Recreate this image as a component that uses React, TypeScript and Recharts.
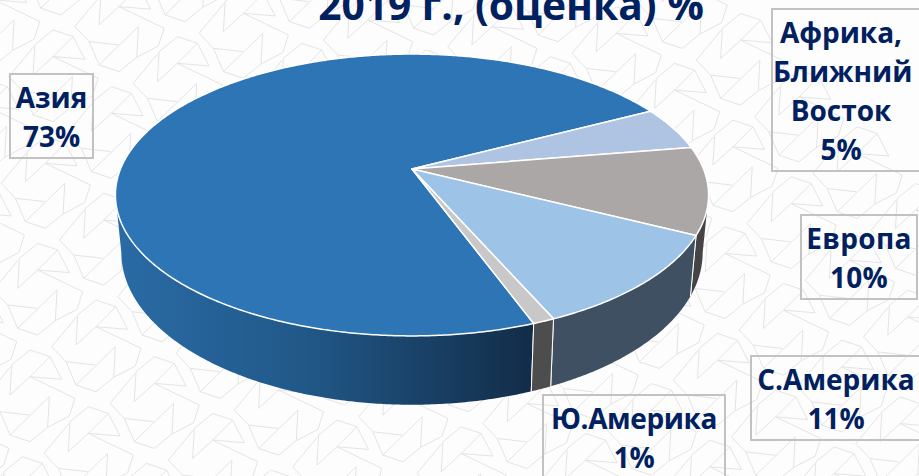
import React from 'react'
import { Cell, Pie, PieChart } from 'recharts'

const regions = ['Азия', 'Африка, Ближний Восток', 'Европа', 'С.Америка', 'Ю.Америка']
const shares = [73, 5, 10, 11, 1]
const titleText = '2019 г., (оценка) %'

const topColors = ['#2e75b6', '#afc3e2', '#aba7a6', '#9dc3e6', '#c8c8c8']
const wallColors = ['url(#asiaWall)', '#3a3a3a', '#454343', '#3f5062', '#4d4d4d']

const data = regions.map((name, i) => ({ name, value: shares[i] }))

// perspective of the tilted disc, fitted to the reference
const TILT = 0.467
const PERSP = 0.1844
const LOWER_SCALE_X = 0.98
const LOWER_TILT = 0.504
const LOWER_DROP = 55.6

// textWidth centres the words inside boxes that run past the right edge
const labelBoxes = [
  { lines: ['Азия', '73%'], left: 9, top: 73, width: 85, height: 86, textWidth: 81, spacing: 0 },
  { lines: ['Африка,', 'Ближний', 'Восток', '5%'], left: 771, top: 8, width: 160, height: 164, textWidth: 136, spacing: 0 },
  { lines: ['Европа', '10%'], left: 800, top: 214, width: 118, height: 86, textWidth: 114, spacing: 0.3 },
  { lines: ['С.Америка', '11%'], left: 750, top: 355, width: 180, height: 86, textWidth: 168, spacing: 0 },
  { lines: ['Ю.Америка', '1%'], left: 542, top: 394, width: 184, height: 100, textWidth: 180, spacing: -0.4 },
]

// wallpaper strokes of one lattice cell, [x1, y1, x2, y2] at 3x of the page
const wallpaperStrokes = [
  [148, 170, 143, 262],
  [148, 170, 30, 285],
  [30, 285, 90, 305],
  [90, 305, 143, 262],
  [0, 215, 88, 225],
  [90, 110, 185, 118],
  [90, 110, 225, 175],
  [225, 175, 208, 228],
  [208, 228, 143, 262],
  [90, 110, 30, 165],
  [30, 165, 35, 75],
  [35, 75, 90, 30],
  [90, 30, 150, 50],
  [150, 50, 185, 118],
  [90, 110, 150, 50],
  [-43, 170, 0, 215],
  [0, 215, 30, 285],
  [-43, 170, 32, 80],
]
const latticeSteps = [-9, -8, -7, -6, -5, -4, -3, -2, -1, 0, 1, 2, 3, 4, 5, 6, 7, 8, 9]

type Pt = [number, number]

const topPoint = (cx: number, cy: number, r: number, deg: number): Pt => {
  const rad = (deg * Math.PI) / 180
  const u = Math.cos(rad)
  const v = -Math.sin(rad)
  const d = 1 - PERSP * v
  return [cx + (r * u) / d, cy + (r * TILT * v) / d]
}

const lowerPoint = (cx: number, cy: number, r: number, deg: number): Pt => {
  const rad = (deg * Math.PI) / 180
  const u = Math.cos(rad)
  const v = -Math.sin(rad)
  const d = 1 - PERSP * v
  return [cx + (r * LOWER_SCALE_X * u) / d, cy + LOWER_DROP + (r * LOWER_TILT * v) / d]
}

const arc = (fn: (deg: number) => Pt, from: number, to: number): Pt[] => {
  const n = Math.max(2, Math.ceil(Math.abs(to - from) * 2))
  const pts: Pt[] = []
  for (let i = 0; i <= n; i++) pts.push(fn(from + ((to - from) * i) / n))
  return pts
}

const toPath = (pts: Pt[]) =>
  'M' + pts.map((p) => `${p[0].toFixed(2)},${p[1].toFixed(2)}`).join('L') + 'Z'

const TopSlice = (props: any) => {
  const { cx, cy, outerRadius, startAngle, endAngle, fill } = props
  const rim = arc((d) => topPoint(cx, cy, outerRadius, d), startAngle, endAngle)
  return (
    <path
      d={toPath([[cx, cy], ...rim])}
      fill={fill}
      stroke="#ffffff"
      strokeWidth={1.5}
      strokeLinejoin="round"
    />
  )
}

const WallSlice = (props: any) => {
  const { cx, cy, outerRadius, startAngle, endAngle, fill } = props
  // only the part of the rim that faces the viewer
  const sil = (Math.asin(PERSP) * 180) / Math.PI
  const parts: React.ReactNode[] = []
  ;[0, -360].forEach((shift) => {
    const from = Math.min(startAngle, -sil + shift)
    const to = Math.max(endAngle, -180 + sil + shift)
    if (from <= to) return
    const upper = arc((d) => topPoint(cx, cy, outerRadius, d), from, to)
    const lower = arc((d) => lowerPoint(cx, cy, outerRadius, d), to, from)
    parts.push(<path key={shift} d={toPath([...upper, ...lower])} fill={fill} stroke="none" />)
    const edges = [startAngle === from ? from : null, endAngle === to ? to : null]
    edges.forEach((deg, i) => {
      if (deg === null) return
      const a = topPoint(cx, cy, outerRadius, deg)
      const b = lowerPoint(cx, cy, outerRadius, deg)
      parts.push(
        <line
          key={`${shift}-${i}`}
          x1={a[0]}
          y1={a[1]}
          x2={b[0]}
          y2={b[1]}
          stroke="#ffffff"
          strokeWidth={1}
        />
      )
    })
  })
  return <g>{parts}</g>
}

const wallpaperPath = () => {
  let d = ''
  latticeSteps.forEach((i) => {
    latticeSteps.forEach((j) => {
      const ox = i * 66 + j * 58.3
      const oy = j * 56.7 - i * 50
      wallpaperStrokes.forEach(([x1, y1, x2, y2]) => {
        d += `M${(x1 / 3 + ox).toFixed(1)},${(y1 / 3 + 340 + oy).toFixed(1)}`
        d += `L${(x2 / 3 + ox).toFixed(1)},${(y2 / 3 + 340 + oy).toFixed(1)}`
      })
    })
  })
  return d
}

const Wallpaper = () => (
  <svg width={919} height={476} style={{ position: 'absolute', left: 0, top: 0 }}>
    <rect width={919} height={476} fill="#fdfdfd" />
    <path d={wallpaperPath()} fill="none" stroke="#e4e4e4" strokeWidth={1} />
  </svg>
)

const App = () => {
  const fontFamily = '"Open Sans", sans-serif'
  return (
    <div
      style={{
        position: 'absolute',
        left: 0,
        top: 0,
        width: 919,
        height: 476,
        overflow: 'hidden',
        fontFamily,
      }}
    >
      <Wallpaper />
      <div
        style={{
          position: 'absolute',
          left: 211,
          width: 600,
          top: -23,
          textAlign: 'center',
          fontSize: 40.7,
          lineHeight: '54px',
          fontWeight: 700,
          color: '#002060',
        }}
      >
        {titleText}
      </div>
      <div style={{ position: 'absolute', left: 0, top: 0 }}>
        <PieChart width={919} height={476} margin={{ top: 0, right: 0, bottom: 0, left: 0 }}>
          <defs>
            <linearGradient id="asiaWall" x1="0" y1="0" x2="1" y2="0">
              <stop offset="0" stopColor="#2a6ba6" />
              <stop offset="0.45" stopColor="#215888" />
              <stop offset="1" stopColor="#122c48" />
            </linearGradient>
          </defs>
          <Pie
            data={data}
            dataKey="value"
            nameKey="name"
            cx={412}
            cy={169}
            outerRadius={291.5}
            startAngle={-69.8}
            endAngle={-429.8}
            shape={WallSlice}
            isAnimationActive={false}
            label={false}
            labelLine={false}
          >
            {data.map((d, i) => (
              <Cell key={d.name} fill={wallColors[i]} />
            ))}
          </Pie>
          <Pie
            data={data}
            dataKey="value"
            nameKey="name"
            cx={412}
            cy={169}
            outerRadius={291.5}
            startAngle={-69.8}
            endAngle={-429.8}
            shape={TopSlice}
            isAnimationActive={false}
            label={false}
            labelLine={false}
          >
            {data.map((d, i) => (
              <Cell key={d.name} fill={topColors[i]} />
            ))}
          </Pie>
        </PieChart>
      </div>
      {labelBoxes.map((b) => (
        <div
          key={b.lines[0]}
          style={{
            position: 'absolute',
            left: b.left,
            top: b.top,
            width: b.width,
            height: b.height,
            boxSizing: 'border-box',
            border: '2px solid #c2c2c2',
            color: '#002060',
            fontWeight: 700,
            fontSize: 28,
            letterSpacing: b.spacing,
            lineHeight: '39px',
            textAlign: 'center',
            paddingTop: 3,
          }}
        >
          {b.lines.map((l) => (
            <div key={l} style={{ whiteSpace: 'nowrap', width: b.textWidth }}>
              {l}
            </div>
          ))}
        </div>
      ))}
    </div>
  )
}

export default App
